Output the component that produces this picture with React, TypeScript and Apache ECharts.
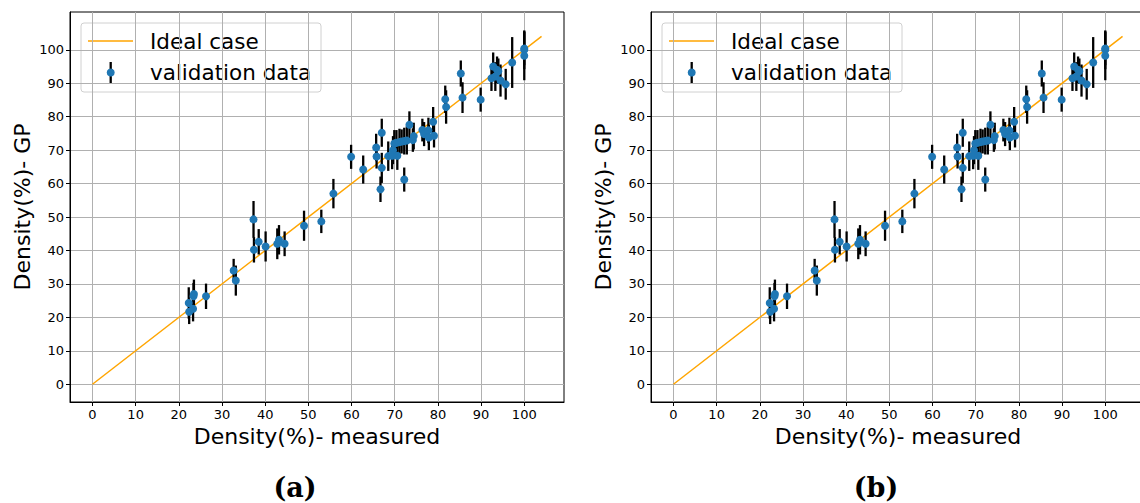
import React, { useEffect, useRef } from "react";
import * as echarts from "echarts";

// measured density (%), GP prediction (%), half error bar (%)
const measured = [22.3, 22.4, 23.3, 23.5, 23.4, 26.3, 32.7, 33.2, 37.3, 37.4, 38.5, 40.1, 42.8, 43.2, 44.5, 49.0, 53.0, 55.8, 59.9, 62.7, 65.7, 65.8, 67.0, 67.0, 66.7, 68.5, 69.4, 69.6, 69.9, 70.6, 70.4, 71.1, 71.6, 72.2, 72.8, 72.2, 73.4, 74.2, 74.4, 76.4, 76.8, 77.8, 77.9, 78.9, 79.1, 81.7, 81.9, 85.3, 85.7, 89.9, 92.4, 92.8, 93.3, 93.7, 94.0, 94.5, 95.7, 97.2, 100.0, 100.0, 100.0];
const predicted = [24.3, 21.7, 22.6, 27.0, 26.3, 26.3, 34.0, 31.0, 49.3, 40.2, 42.6, 41.2, 42.0, 43.2, 42.0, 47.4, 48.7, 57.0, 68.0, 64.2, 70.8, 68.1, 75.2, 64.7, 58.3, 68.2, 68.3, 70.0, 72.0, 68.3, 72.2, 72.4, 72.6, 72.7, 72.9, 61.2, 77.6, 73.0, 74.2, 76.0, 74.8, 75.9, 73.8, 78.5, 74.3, 85.2, 82.9, 92.9, 85.7, 85.1, 91.5, 95.0, 92.0, 94.0, 93.6, 90.8, 89.7, 96.2, 100.0, 98.2, 100.4];
const errors = [4.7, 3.7, 3.8, 4.3, 4.0, 3.8, 3.5, 4.5, 5.5, 3.8, 3.8, 4.5, 4.6, 4.4, 3.7, 4.5, 3.5, 4.4, 3.6, 4.2, 4.1, 3.6, 4.2, 4.5, 3.8, 4.4, 4.0, 4.2, 4.0, 4.2, 3.8, 4.0, 3.6, 4.0, 4.2, 3.6, 4.0, 3.5, 4.0, 3.4, 3.6, 3.8, 3.8, 4.4, 3.5, 4.1, 5.0, 3.9, 4.6, 3.6, 3.8, 4.2, 4.3, 4.0, 3.8, 4.8, 4.6, 7.6, 5.8, 7.3, 5.0];
const idealLine = [[0, 0], [104, 104]];
const tickValues = [0, 10, 20, 30, 40, 50, 60, 70, 80, 90, 100];
const panelCaptions = ["(a)", "(b)"];
const xTitle = "Density(%)- measured";
const yTitle = "Density(%)- GP";
const legendLabels = ["Ideal case", "validation data"];

const FONT = "DejaVu Sans";
const BLUE = "#1f77b4";
const ORANGE = "#ffa500";

export default function App() {
  const ref = useRef<HTMLDivElement>(null);
  useEffect(() => {
    if (!ref.current) return;
    const chart = echarts.init(ref.current, null, { renderer: "svg" });
    const panelLefts = [70, 651];
    const grids: any[] = [];
    const xAxes: any[] = [];
    const yAxes: any[] = [];
    const series: any[] = [];
    const graphics: any[] = [];
    const points = measured.map((m, i) => [m, predicted[i], errors[i]]);

    panelLefts.forEach((left, p) => {
      grids.push({ left, top: 12, width: 494, height: 390, show: true, borderColor: "#000", borderWidth: 1, backgroundColor: "transparent" });
      const axisCommon = {
        axisLine: { show: true, onZero: false, lineStyle: { color: "#000", width: 1 } },
        axisTick: { show: true, inside: false, length: 4, customValues: tickValues, lineStyle: { color: "#000", width: 1 } },
        axisLabel: { customValues: tickValues, color: "#000", fontFamily: FONT, fontSize: 13, margin: 6 },
        splitLine: { show: true, lineStyle: { color: "#b0b0b0", width: 1 } },
        nameLocation: "middle",
        nameTextStyle: { fontFamily: FONT, fontSize: 22, color: "#000" },
      };
      xAxes.push({ ...axisCommon, type: "value", gridIndex: p, min: -5.2, max: 109.2, name: xTitle, nameGap: 23 });
      yAxes.push({ ...axisCommon, type: "value", gridIndex: p, min: -5.3, max: 111.3, name: yTitle, nameGap: 37 });

      series.push({
        type: "line", xAxisIndex: p, yAxisIndex: p, data: idealLine, showSymbol: false, symbol: "none",
        lineStyle: { color: ORANGE, width: 1.5 }, z: 2, silent: true,
      });
      series.push({
        type: "custom", xAxisIndex: p, yAxisIndex: p, data: points, z: 3, silent: true,
        renderItem: (params: any, api: any) => {
          const x = api.value(0), y = api.value(1), e = api.value(2);
          const a = api.coord([x, y - e]);
          const b = api.coord([x, y + e]);
          return { type: "line", shape: { x1: a[0], y1: a[1], x2: b[0], y2: b[1] }, style: { stroke: "#000", lineWidth: 2.3 } };
        },
      });
      series.push({
        type: "scatter", xAxisIndex: p, yAxisIndex: p, data: points.map((q) => [q[0], q[1]]),
        symbol: "circle", symbolSize: 8, itemStyle: { color: BLUE, opacity: 1 }, z: 4,
      });

      const off = left - 70;
      graphics.push({
        type: "group", x: off, y: 0, z: 100,
        children: [
          { type: "rect", shape: { x: 81, y: 23, width: 240, height: 69, r: 3 }, style: { fill: "rgba(255,255,255,0.8)", stroke: "#d0d0d0", lineWidth: 1 } },
          { type: "line", shape: { x1: 88, y1: 41, x2: 133, y2: 41 }, style: { stroke: ORANGE, lineWidth: 1.5 } },
          { type: "text", x: 150, y: 41, style: { text: legendLabels[0], font: `21.5px '${FONT}'`, fill: "#000", verticalAlign: "middle", align: "left" } },
          { type: "line", shape: { x1: 110.7, y1: 62, x2: 110.7, y2: 84 }, style: { stroke: "#000", lineWidth: 2.3 } },
          { type: "circle", shape: { cx: 110.7, cy: 72.5, r: 4 }, style: { fill: BLUE } },
          { type: "text", x: 150, y: 72.5, style: { text: legendLabels[1], font: `21.5px '${FONT}'`, fill: "#000", verticalAlign: "middle", align: "left" } },
        ],
      });
      graphics.push({
        type: "text", x: left + 225, y: 487, z: 100,
        style: { text: panelCaptions[p], font: `bold 27px 'DejaVu Serif'`, fill: "#000", align: "center", verticalAlign: "middle" },
      });
    });

    chart.setOption({
      animation: false,
      backgroundColor: "#fff",
      grid: grids,
      xAxis: xAxes,
      yAxis: yAxes,
      series,
      graphic: graphics,
    });
    return () => chart.dispose();
  }, []);
  return <div ref={ref} style={{ position: "fixed", left: 0, top: 0, width: 1150, height: 503 }} />;
}
